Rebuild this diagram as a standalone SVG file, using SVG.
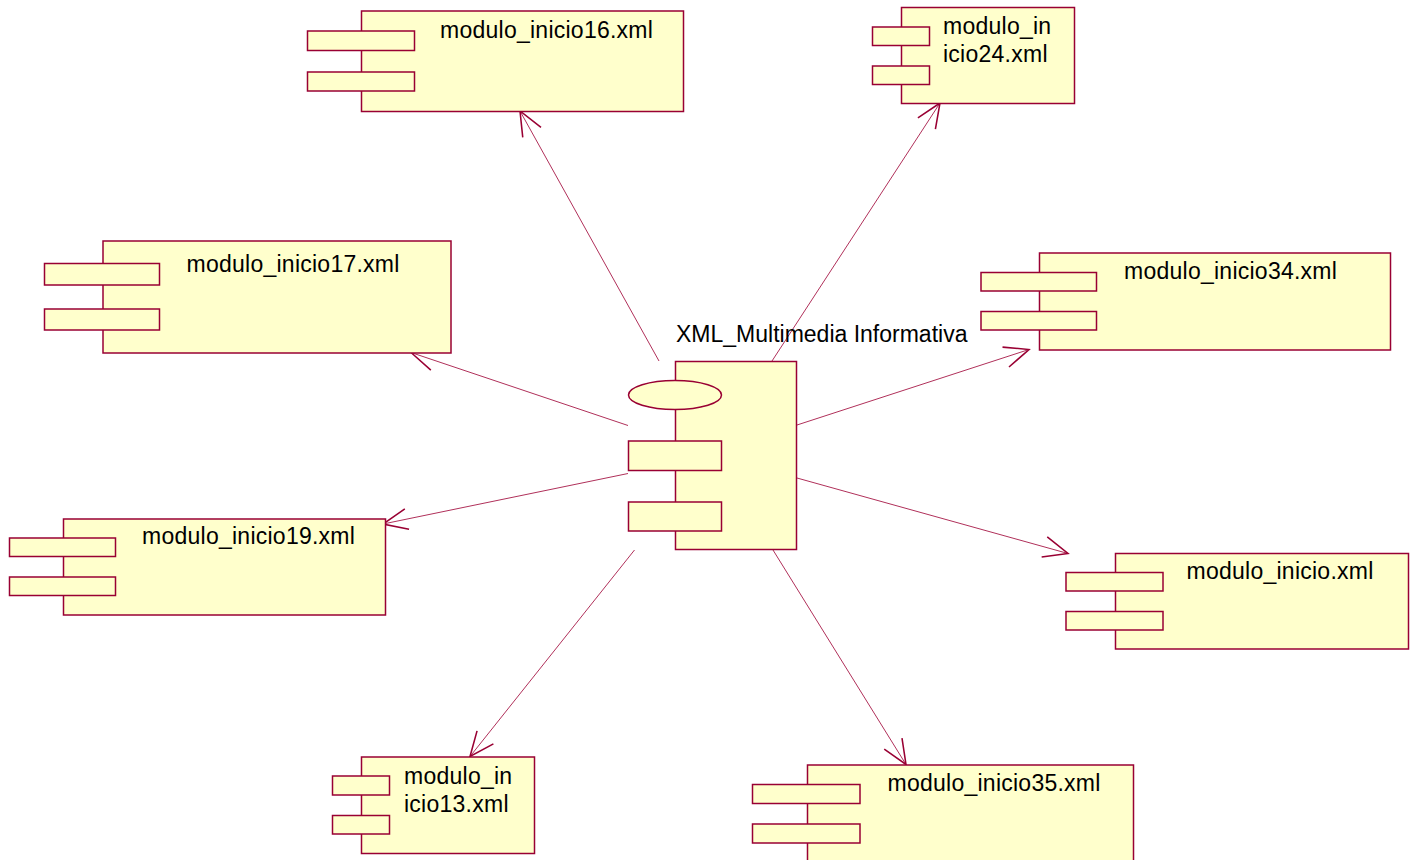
<svg xmlns="http://www.w3.org/2000/svg" width="1412" height="860" viewBox="0 0 1412 860">
  <style>
    .box { fill: #FFFFCC; stroke: #990033; stroke-width: 1.5; }
    .lbl { font-family: "Liberation Sans", Arial, sans-serif; font-size: 23px; fill: #000000; }
    .mod { letter-spacing: 0.25px; }
    .dep { fill: none; stroke: #B0305A; stroke-width: 1; marker-end: url(#open); }
  </style>
  <defs>
    <marker id="open" markerUnits="userSpaceOnUse" markerWidth="30" markerHeight="30" viewBox="-25 -12 27 24" refX="0" refY="0" orient="auto">
      <path d="M -22 -9.4 L 0 0 L -22 9.4" fill="none" stroke="#990033" stroke-width="1.4"/>
    </marker>
  </defs>
  <rect width="1412" height="860" fill="#FFFFFF"/>

  <!-- dependency connectors -->
  <g id="connectors">
    <line class="dep" x1="659" y1="361" x2="520" y2="111"/>
    <line class="dep" x1="772" y1="361" x2="940" y2="103"/>
    <line class="dep" x1="628" y1="425.5" x2="411" y2="352.5"/>
    <line class="dep" x1="628" y1="473.5" x2="383" y2="524"/>
    <line class="dep" x1="797" y1="425" x2="1029" y2="349.5"/>
    <line class="dep" x1="797" y1="478" x2="1068" y2="553.5"/>
    <line class="dep" x1="634.5" y1="550" x2="470" y2="756.5"/>
    <line class="dep" x1="773" y1="550" x2="906" y2="764.5"/>
  </g>

  <!-- central component -->
  <g id="xml_multimedia">
    <rect class="box" x="675.5" y="361.5" width="121" height="188"/>
    <ellipse class="box" cx="675" cy="395" rx="46.5" ry="14.5"/>
    <rect class="box" x="628.5" y="441" width="93" height="29.5"/>
    <rect class="box" x="628.5" y="502" width="93" height="29"/>
    <text class="lbl" x="676" y="342">XML_Multimedia Informativa</text>
  </g>

  <g id="modulo_inicio16">
    <rect class="box" x="361.5" y="11" width="322" height="100.5"/>
    <rect class="box" x="307.5" y="31" width="107" height="19.5"/>
    <rect class="box" x="307.5" y="72" width="107" height="19"/>
    <text class="lbl mod" x="440" y="38">modulo_inicio16.xml</text>
  </g>

  <g id="modulo_inicio24">
    <rect class="box" x="901.5" y="7.5" width="173" height="96"/>
    <rect class="box" x="872.5" y="27" width="57" height="18.5"/>
    <rect class="box" x="872.5" y="66" width="57" height="18.5"/>
    <text class="lbl mod" x="943" y="33.5">modulo_in</text>
    <text class="lbl mod" x="943" y="62">icio24.xml</text>
  </g>

  <g id="modulo_inicio17">
    <rect class="box" x="103" y="241" width="348" height="112"/>
    <rect class="box" x="44.5" y="263.5" width="115" height="21.5"/>
    <rect class="box" x="44.5" y="309" width="115" height="21"/>
    <text class="lbl mod" x="186.5" y="272">modulo_inicio17.xml</text>
  </g>

  <g id="modulo_inicio34">
    <rect class="box" x="1039.5" y="253" width="351" height="97"/>
    <rect class="box" x="981" y="272.5" width="115.5" height="18.5"/>
    <rect class="box" x="981" y="311.5" width="115.5" height="18.5"/>
    <text class="lbl mod" x="1124" y="279">modulo_inicio34.xml</text>
  </g>

  <g id="modulo_inicio19">
    <rect class="box" x="63.5" y="519" width="322" height="96"/>
    <rect class="box" x="9.5" y="538" width="106" height="18.5"/>
    <rect class="box" x="9.5" y="577" width="106" height="18.5"/>
    <text class="lbl mod" x="142" y="543.5">modulo_inicio19.xml</text>
  </g>

  <g id="modulo_inicio">
    <rect class="box" x="1115.5" y="553.5" width="293" height="95.5"/>
    <rect class="box" x="1066" y="572.5" width="97" height="18.5"/>
    <rect class="box" x="1066" y="611.5" width="97" height="18.5"/>
    <text class="lbl mod" x="1186.5" y="578.5">modulo_inicio.xml</text>
  </g>

  <g id="modulo_inicio13">
    <rect class="box" x="361.5" y="757" width="173" height="96.5"/>
    <rect class="box" x="332.5" y="776" width="57" height="19"/>
    <rect class="box" x="332.5" y="815.5" width="57" height="18.5"/>
    <text class="lbl mod" x="404" y="783.5">modulo_in</text>
    <text class="lbl mod" x="404" y="812">icio13.xml</text>
  </g>

  <g id="modulo_inicio35">
    <rect class="box" x="807.5" y="765" width="326" height="97"/>
    <rect class="box" x="752.5" y="784.5" width="107.5" height="19"/>
    <rect class="box" x="752.5" y="824" width="107.5" height="19"/>
    <text class="lbl mod" x="887.5" y="791">modulo_inicio35.xml</text>
  </g>
</svg>
